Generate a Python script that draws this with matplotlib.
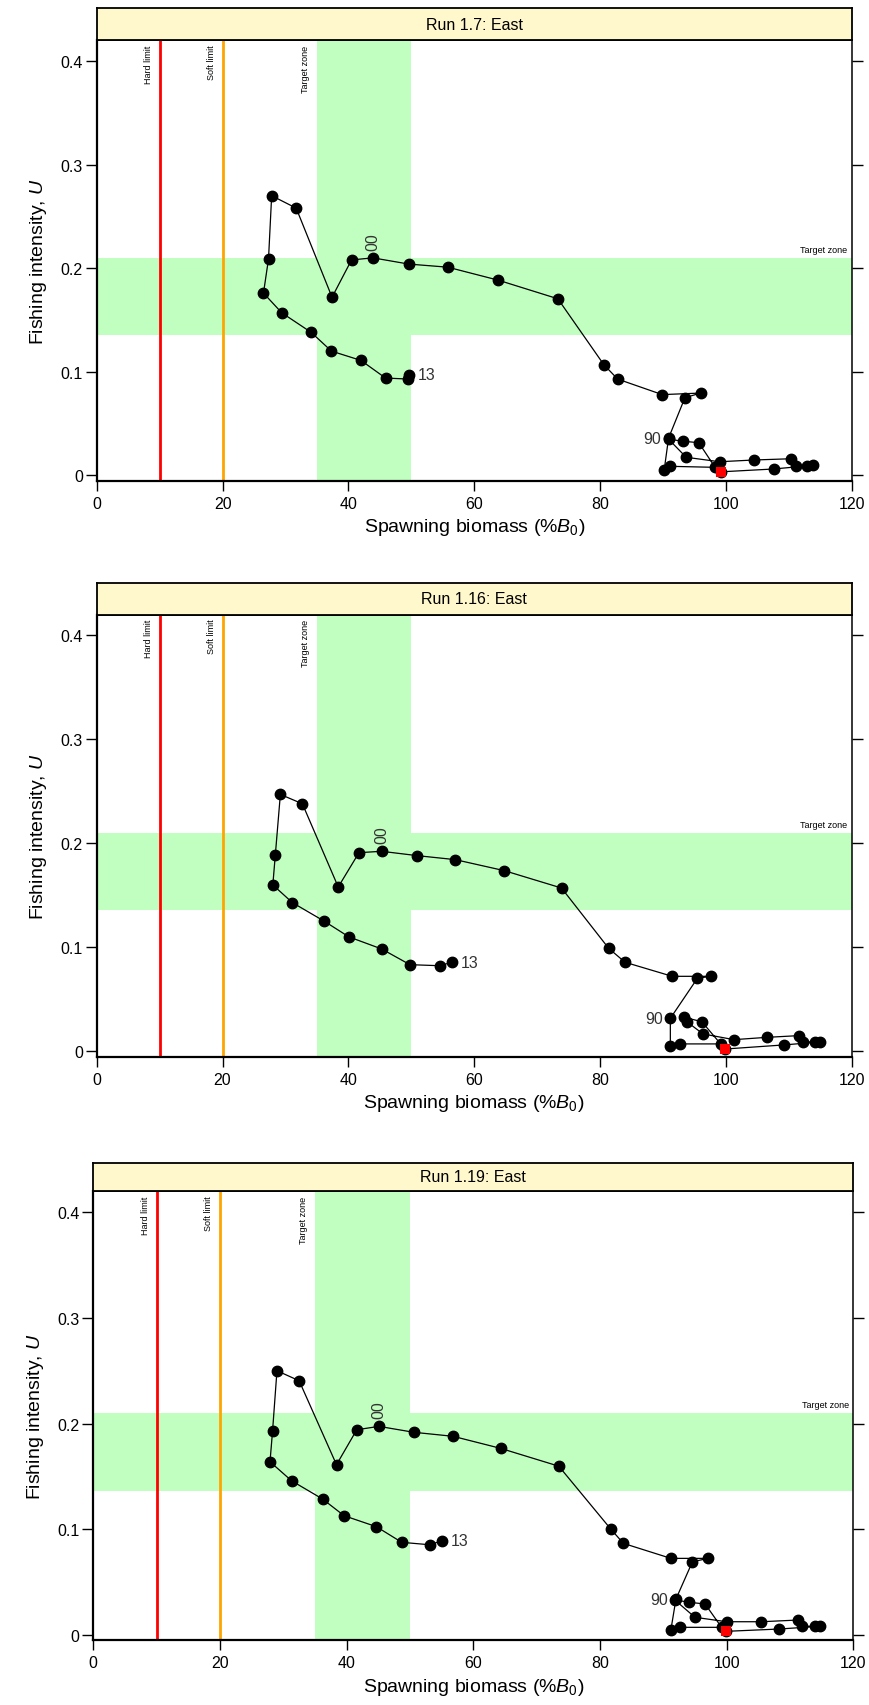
import matplotlib
matplotlib.use("Agg")
import matplotlib.pyplot as plt

plt.rcParams["font.family"] = ["Liberation Sans", "DejaVu Sans"]
plt.rcParams["mathtext.fontset"] = "custom"
plt.rcParams["mathtext.rm"] = "Liberation Sans"
plt.rcParams["mathtext.it"] = "Liberation Sans:italic"

# data, 1975-2013
years = list(range(1975, 2014))
titles = ["Run 1.7: East", "Run 1.16: East", "Run 1.19: East"]

b_17 = [99.3, 107.6, 113.8, 112.9, 111.1, 110.4, 104.5, 99.0, 93.7, 90.9,
        93.2, 95.7, 98.3, 91.1, 90.2, 90.9, 93.5, 96.0, 89.9, 82.8,
        80.6, 73.3, 63.8, 55.8, 49.6, 43.9, 40.5, 37.4, 31.7, 27.8,
        27.3, 26.5, 29.4, 34.1, 37.3, 42.0, 45.9, 49.5, 49.7]
u_17 = [0.0035, 0.0062, 0.0097, 0.0090, 0.0094, 0.0161, 0.0149, 0.0132, 0.0175, 0.0350,
        0.0330, 0.0316, 0.0078, 0.0088, 0.0050, 0.0360, 0.0750, 0.0795, 0.0780, 0.0930,
        0.1070, 0.1705, 0.1885, 0.2010, 0.2040, 0.2100, 0.2080, 0.1720, 0.2580, 0.2700,
        0.2090, 0.1760, 0.1570, 0.1380, 0.1200, 0.1110, 0.0940, 0.0930, 0.0970]

b_116 = [99.9, 109.2, 115.0, 114.2, 112.3, 111.7, 106.5, 101.3, 96.4, 93.8,
         93.3, 96.2, 99.2, 92.8, 91.2, 91.2, 95.5, 97.6, 91.5, 84.0,
         81.4, 73.9, 64.8, 57.0, 51.0, 45.3, 41.7, 38.4, 32.7, 29.2,
         28.4, 28.0, 31.1, 36.2, 40.1, 45.3, 49.8, 54.5, 56.5]
u_116 = [0.0022, 0.0061, 0.0090, 0.0093, 0.0087, 0.0151, 0.0134, 0.0112, 0.0167, 0.0285,
         0.0328, 0.0285, 0.0071, 0.0071, 0.0054, 0.0317, 0.0702, 0.0721, 0.0721, 0.0856,
         0.0990, 0.1570, 0.1737, 0.1843, 0.1881, 0.1923, 0.1910, 0.1580, 0.2380, 0.2470,
         0.1890, 0.1600, 0.1430, 0.1250, 0.1100, 0.0984, 0.0833, 0.0823, 0.0856]

b_119 = [99.9, 108.3, 114.8, 114.0, 111.9, 111.2, 105.5, 100.0, 95.0, 91.8,
         94.1, 96.6, 99.2, 92.6, 91.2, 92.0, 94.6, 97.1, 91.2, 83.7,
         81.7, 73.5, 64.3, 56.8, 50.6, 45.1, 41.6, 38.4, 32.5, 29.0,
         28.3, 27.9, 31.3, 36.2, 39.6, 44.7, 48.7, 53.1, 55.1]
u_119 = [0.0032, 0.0054, 0.0080, 0.0080, 0.0080, 0.0139, 0.0123, 0.0123, 0.0165, 0.0330,
         0.0307, 0.0291, 0.0070, 0.0070, 0.0047, 0.0338, 0.0691, 0.0723, 0.0723, 0.0865,
         0.1001, 0.1596, 0.1765, 0.1879, 0.1917, 0.1973, 0.1941, 0.1610, 0.2405, 0.2500,
         0.1926, 0.1638, 0.1458, 0.1285, 0.1127, 0.1023, 0.0875, 0.0852, 0.0890]

series = [(b_17, u_17), (b_116, u_116), (b_119, u_119)]

hard_limit = 10
soft_limit = 20
target_b = (35, 50)
target_u = (0.136, 0.21)
label_years = [1990, 2000, 2013]

W, H = 869, 1706
fig = plt.figure(figsize=(W / 100, H / 100), dpi=100)


def box(l, t, r, b):
    return [l / W, 1 - b / H, (r - l) / W, (b - t) / H]


# pixel frames: (left, strip top, axes top, right, axes bottom)
frames = [(96.8, 8.7, 41.3, 851.6, 481.6),
          (96.7, 584.0, 615.5, 851.5, 1057.5),
          (93.3, 1163.5, 1192.2, 853.3, 1641.0)]

for (l, st, t, r, b), title, (bx, uy) in zip(frames, titles, series):
    ax = fig.add_axes(box(l, t, r, b))
    sax = fig.add_axes(box(l, st, r, t))

    sax.set_facecolor("#FFF8CC")
    sax.set_xticks([])
    sax.set_yticks([])
    for s in sax.spines.values():
        s.set_linewidth(1.3)
    sax.text(0.5, 0.5, title, ha="center", va="center", fontsize=11.5,
             transform=sax.transAxes)

    ax.set_xlim(0, 120)
    ax.set_ylim(-0.005, 0.42)
    ax.axvspan(*target_b, color="#C1FFC1", lw=0, zorder=0)
    ax.axhspan(*target_u, color="#C1FFC1", lw=0, zorder=0)
    ax.axvline(hard_limit, color="red", lw=2, zorder=1)
    ax.axvline(soft_limit, color="orange", lw=2, zorder=1)

    for xv, lab in [(hard_limit, "Hard limit"), (soft_limit, "Soft limit"),
                    (target_b[0], "Target zone")]:
        ax.text(xv - 1.8, 0.416, lab, rotation=90, ha="center", va="top",
                fontsize=6.5)
    ax.text(119.3, target_u[1] + 0.004, "Target zone", ha="right",
            va="bottom", fontsize=6.5)

    ax.plot(bx, uy, color="black", lw=0.9, marker="o", ms=7.5, zorder=3)
    ax.plot(bx[0], uy[0], marker="s", ls="none", color="red", ms=7,
            mew=0, zorder=4)

    for yr in label_years:
        i = years.index(yr)
        lab = str(yr)[-2:]
        if yr == 1990:
            ax.text(bx[i] - 1.2, uy[i], lab, ha="right", va="center",
                    fontsize=11.5, color="#333333")
        elif yr == 2000:
            ax.text(bx[i], uy[i] + 0.008, lab, ha="center", va="bottom",
                    rotation=90, fontsize=11.5, color="#333333")
        else:
            ax.text(bx[i] + 1.4, uy[i], lab, ha="left", va="center",
                    fontsize=11.5, color="#333333")

    ax.set_xticks([0, 20, 40, 60, 80, 100, 120])
    ax.set_yticks([0, 0.1, 0.2, 0.3, 0.4])
    ax.set_yticklabels(["0", "0.1", "0.2", "0.3", "0.4"])
    ax.tick_params(axis="y", which="both", direction="out", length=8,
                   width=1, right=True, labelsize=11.5, pad=2)
    ax.tick_params(axis="x", direction="out", length=7, width=1,
                   labelsize=11.5, pad=4)
    for s in ["left", "bottom"]:
        ax.spines[s].set_linewidth(1.6)
    ax.spines["right"].set_linewidth(1.1)
    ax.spines["top"].set_linewidth(1.3)

    ax.set_xlabel(r"Spawning biomass (%$\mathit{B}_{0}$)", fontsize=14,
                  labelpad=4)
    ax.set_ylabel(r"Fishing intensity, $\mathit{U}$", fontsize=14,
                  labelpad=8)

fig.savefig("out.png", dpi=100)
